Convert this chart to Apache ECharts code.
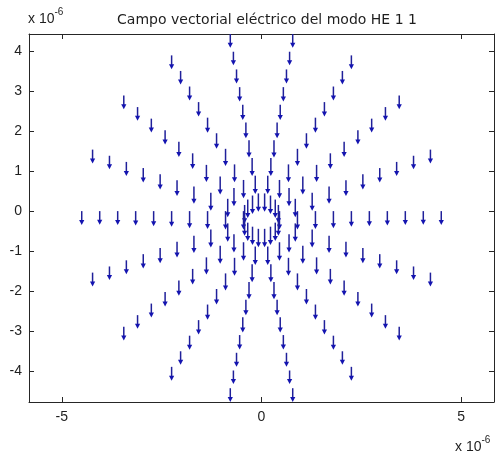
<!DOCTYPE html>
<html>
<head>
<meta charset="utf-8">
<script src="https://cdn.jsdelivr.net/npm/echarts@6/dist/echarts.min.js"></script>
<style>
  html, body { margin: 0; padding: 0; background: #ffffff; }
  #chart { width: 495px; height: 461px; }
</style>
</head>
<body>
<div id="chart"></div>
<script>
// Sampling grid of the fibre cross-section (units of 1e-6 m)
const radii = [0.45, 0.9, 1.35, 1.8, 2.25, 2.7, 3.15, 3.6, 4.05, 4.5];
const anglesDeg = [0, 20, 40, 60, 80, 100, 120, 140, 160, 180, 200, 220, 240, 260, 280, 300, 320, 340];
// Electric field of HE11 at each radius: purely along -y (x component zero)
const fieldU = [0, 0, 0, 0, 0, 0, 0, 0, 0, 0];
const fieldV = [-0.46, -0.46, -0.45, -0.43, -0.39, -0.38, -0.36, -0.35, -0.34, -0.345];
// Axis tick values
const xTicks = [-5, 0, 5];
const yTicks = [-4, -3, -2, -1, 0, 1, 2, 3, 4];

const X_MIN = -5.82, X_MAX = 5.82;
const Y_MIN = -4.777, Y_MAX = 4.432;

// Quiver rows: [x, y, u, v]
const quiver = [];
radii.forEach(function (r, i) {
  anglesDeg.forEach(function (a) {
    const t = a * Math.PI / 180;
    quiver.push([r * Math.cos(t), r * Math.sin(t), fieldU[i], fieldV[i]]);
  });
});

const SHAFT = '#20209a';
const HEAD = '#1414b0';
const TEXT = '#1e1e1e';
const FONT = '"Liberation Sans", Arial, sans-serif';
const WIDE = '"DejaVu Sans", Verdana, sans-serif';

function renderArrow(params, api) {
  const x = api.value(0), y = api.value(1), u = api.value(2), v = api.value(3);
  const p0 = api.coord([x, y]);
  const p1 = api.coord([x + u, y + v]);
  const dx = p1[0] - p0[0], dy = p1[1] - p0[1];
  const len = Math.hypot(dx, dy) || 1;
  const ux = dx / len, uy = dy / len;
  const hl = 5, hw = 2.6;
  const bx = p1[0] - ux * hl, by = p1[1] - uy * hl;
  return {
    type: 'group',
    children: [
      {
        type: 'line',
        shape: { x1: p0[0], y1: p0[1], x2: bx + ux * 1, y2: by + uy * 1 },
        style: { stroke: SHAFT, lineWidth: 1.5 }
      },
      {
        type: 'polygon',
        shape: { points: [[p1[0], p1[1]], [bx - uy * hw, by + ux * hw], [bx + uy * hw, by - ux * hw]] },
        style: { fill: HEAD }
      }
    ]
  };
}

function axisBase(extra) {
  return Object.assign({
    type: 'value',
    splitLine: { show: false },
    axisLine: { show: true, onZero: false, lineStyle: { color: '#262626', width: 1 } }
  }, extra);
}

function tickStyle(values) {
  return { show: true, inside: true, length: 5, lineStyle: { color: '#262626' }, customValues: values };
}

const exponentRich = {
  b: { fontFamily: FONT, fontSize: 14, fill: TEXT, padding: [8, 0, 0, 0] },
  s: { fontFamily: FONT, fontSize: 10, fill: TEXT, padding: [0, 0, 6, 0] }
};

const chart = echarts.init(document.getElementById('chart'), null, { renderer: 'canvas' });
chart.setOption({
  animation: false,
  backgroundColor: '#ffffff',
  title: {
    text: 'Campo vectorial eléctrico del modo HE 1 1',
    left: 262, top: 8, textAlign: 'center',
    textStyle: { fontFamily: WIDE, fontSize: 14, fontWeight: 'normal', color: TEXT }
  },
  grid: { left: 29, top: 34, width: 465, height: 368 },
  xAxis: [
    axisBase({
      min: X_MIN, max: X_MAX, position: 'bottom',
      axisTick: tickStyle(xTicks),
      axisLabel: { customValues: xTicks, margin: 8, color: TEXT, fontFamily: FONT, fontSize: 14 }
    }),
    axisBase({
      min: X_MIN, max: X_MAX, position: 'top',
      axisTick: tickStyle(xTicks),
      axisLabel: { show: false }
    })
  ],
  yAxis: [
    axisBase({
      min: Y_MIN, max: Y_MAX, position: 'left',
      axisTick: tickStyle(yTicks),
      axisLabel: { customValues: yTicks, margin: 7, color: TEXT, fontFamily: FONT, fontSize: 14 }
    }),
    axisBase({
      min: Y_MIN, max: Y_MAX, position: 'right',
      axisTick: tickStyle(yTicks),
      axisLabel: { show: false }
    })
  ],
  graphic: [
    { type: 'text', left: 28, top: 7, style: { text: '{b|x 10}{s|-6}', rich: exponentRich } },
    { type: 'text', left: 455, top: 435, style: { text: '{b|x 10}{s|-6}', rich: exponentRich } }
  ],
  series: [{
    type: 'custom',
    xAxisIndex: 0, yAxisIndex: 0,
    renderItem: renderArrow,
    encode: { x: 0, y: 1 },
    data: quiver,
    clip: false,
    silent: true
  }]
});
</script>
</body>
</html>
